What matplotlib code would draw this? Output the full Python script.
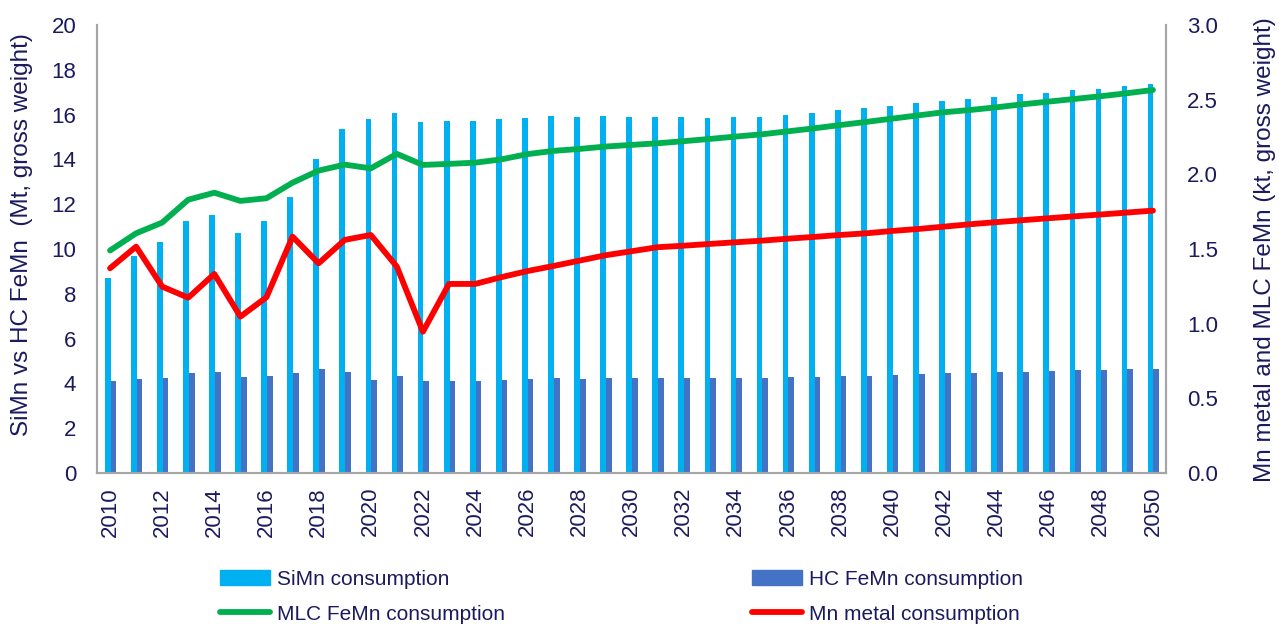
import numpy as np
import matplotlib
matplotlib.use("Agg")
import matplotlib.pyplot as plt
from matplotlib.patches import Patch
from matplotlib.lines import Line2D

plt.rcParams['font.family'] = ['Liberation Sans', 'DejaVu Sans']

years = list(range(2010, 2051))

# Mt, gross weight (left axis)
simn = [8.7, 9.7, 10.3, 11.25, 11.5, 10.7, 11.25, 12.3, 14.0, 15.35,
        15.8, 16.05, 15.65, 15.7, 15.7, 15.8, 15.85, 15.95, 15.9, 15.95,
        15.9, 15.9, 15.9, 15.85, 15.9, 15.9, 16.0, 16.05, 16.2, 16.3,
        16.4, 16.5, 16.6, 16.7, 16.77, 16.9, 16.98, 17.08, 17.16, 17.28, 17.37]
hc_femn = [4.09, 4.18, 4.23, 4.45, 4.52, 4.27, 4.32, 4.45, 4.66, 4.52,
           4.14, 4.32, 4.09, 4.09, 4.09, 4.14, 4.18, 4.23, 4.18, 4.23,
           4.23, 4.23, 4.23, 4.23, 4.23, 4.23, 4.27, 4.27, 4.32, 4.32,
           4.36, 4.41, 4.45, 4.45, 4.49, 4.49, 4.54, 4.58, 4.58, 4.63, 4.66]

# kt, gross weight (right axis)
mlc_femn = [1.49, 1.605, 1.677, 1.83, 1.877, 1.822, 1.84, 1.944, 2.025, 2.065,
            2.04, 2.137, 2.063, 2.07, 2.078, 2.10, 2.135, 2.157, 2.17, 2.186,
            2.197, 2.208, 2.222, 2.237, 2.253, 2.268, 2.288, 2.308, 2.33, 2.351,
            2.373, 2.395, 2.416, 2.431, 2.449, 2.469, 2.487, 2.505, 2.523, 2.543, 2.565]
mn_metal = [1.371, 1.516, 1.248, 1.174, 1.333, 1.047, 1.177, 1.583, 1.404, 1.561,
            1.594, 1.382, 0.946, 1.266, 1.266, 1.311, 1.352, 1.386, 1.422, 1.458,
            1.485, 1.512, 1.522, 1.534, 1.545, 1.556, 1.569, 1.581, 1.594, 1.605,
            1.621, 1.634, 1.650, 1.666, 1.68, 1.693, 1.706, 1.719, 1.731, 1.744, 1.757]

labels = ["SiMn consumption", "HC FeMn consumption",
          "MLC FeMn consumption", "Mn metal consumption"]

c_simn = '#00B0F0'
c_hc = '#4472C4'
c_mlc = '#00B050'
c_mn = '#FF0000'
txt = '#1C1A5E'
grey = '#A6A6A6'

fig = plt.figure(figsize=(12.79, 6.24), dpi=100)
ax = fig.add_axes([97/1279, 1 - 473/624, (1166 - 97)/1279, (473 - 25)/624])
ax2 = ax.twinx()

x = np.arange(len(years))
w = 0.22
ax.bar(x - 0.09, simn, w, color=c_simn)
ax.bar(x + 0.13, hc_femn, w, color=c_hc)

ax2.plot(x, mlc_femn, color=c_mlc, lw=4.2, solid_capstyle='round')
ax2.plot(x, mn_metal, color=c_mn, lw=4.2, solid_capstyle='round')

ax.set_xlim(-0.5, len(years) - 0.5)
ax.set_ylim(0, 20)
ax.set_yticks(range(0, 21, 2))
ax2.set_ylim(0, 3.0)
ax2.set_yticks(np.arange(0, 3.01, 0.5))
ax2.set_yticklabels(["%.1f" % v for v in np.arange(0, 3.01, 0.5)])

ax.set_xticks(x[::2])
ax.set_xticklabels([str(y) for y in years[::2]], rotation=90)

ax.tick_params(axis='y', length=0, pad=15, labelsize=16, labelcolor=txt)
ax2.tick_params(axis='y', length=0, pad=15, labelsize=16, labelcolor=txt)
ax.tick_params(axis='x', length=0, pad=10, labelsize=16, labelcolor=txt)

for a in (ax, ax2):
    a.spines['top'].set_visible(False)
    for s in ('left', 'right', 'bottom'):
        a.spines[s].set_color(grey)
        a.spines[s].set_linewidth(1.5)

fig.text(22/1279, 1 - 235/624, "SiMn vs HC FeMn  (Mt, gross weight)",
         rotation=90, ha='center', va='center', fontsize=17.5, color=txt)
fig.text(1265/1279, 1 - 250/624, "Mn metal and MLC FeMn (kt, gross weight)",
         rotation=90, ha='center', va='center', fontsize=17.5, color=txt)

handles = [Patch(color=c_simn), Line2D([], [], color=c_mlc, lw=4.2, solid_capstyle='round'),
           Patch(color=c_hc), Line2D([], [], color=c_mn, lw=4.2, solid_capstyle='round')]
hl = [labels[0], labels[2], labels[1], labels[3]]
leg = fig.legend(handles, hl, ncol=2, loc='upper left',
                 bbox_to_anchor=(220/1279, 1 - 570/624), frameon=False,
                 fontsize=15, handlelength=2.4, handletextpad=0.35,
                 columnspacing=11.85, labelspacing=0.75, borderpad=0,
                 borderaxespad=0)
for t in leg.get_texts():
    t.set_color(txt)

fig.savefig("out.png", dpi=100)
